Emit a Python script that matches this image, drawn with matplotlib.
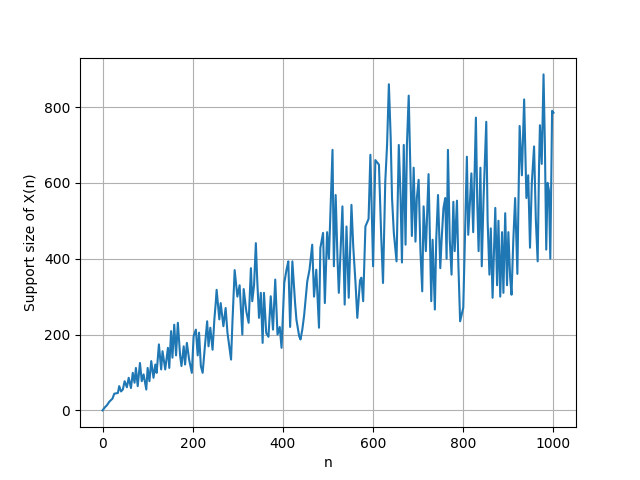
import matplotlib
matplotlib.use("Agg")
import matplotlib.pyplot as plt

n_vals = [0, 5, 10, 15, 22, 26, 34, 37, 41, 45, 49, 54, 58, 63, 67, 71, 74, 78, 83, 87,
          91, 97, 100, 104, 108, 113, 117, 120, 125, 130, 133, 139, 145, 148, 152, 155, 159, 163, 167, 172,
          175, 180, 183, 187, 192, 198, 202, 207, 211, 214, 218, 222, 227, 232, 235, 239, 244, 248, 251, 253,
          259, 262, 268, 273, 277, 281, 285, 288, 293, 299, 304, 310, 313, 319, 324, 329, 332, 336, 340, 343,
          347, 351, 355, 358, 363, 368, 373, 378, 383, 388, 393, 397, 403, 408, 412, 416, 421, 427, 430, 436,
          439, 443, 447, 454, 459, 465, 469, 474, 480, 483, 489, 493, 498, 502, 506, 510, 513, 517, 521, 524,
          532, 537, 541, 546, 552, 556, 561, 565, 571, 574, 578, 583, 590, 594, 600, 605, 613, 618, 622, 627,
          631, 635, 639, 642, 646, 652, 657, 661, 664, 668, 672, 675, 679, 683, 686, 690, 694, 697, 701, 705,
          709, 712, 717, 723, 729, 732, 737, 740, 744, 749, 752, 756, 760, 763, 766, 770, 774, 778, 781, 786,
          789, 793, 800, 805, 808, 811, 818, 822, 828, 831, 834, 838, 841, 845, 851, 854, 858, 861, 865, 871,
          875, 878, 882, 886, 889, 893, 897, 900, 904, 907, 911, 915, 920, 925, 930, 935, 940, 944, 948, 952,
          957, 961, 965, 968, 970, 974, 978, 981, 984, 987, 990, 993, 997, 1000]

support_vals = [0, 8, 14, 23, 31, 44, 46, 64, 50, 55, 77, 61, 86, 59, 99, 73, 112, 64, 125, 77,
                95, 55, 112, 77, 130, 86, 121, 99, 174, 108, 156, 108, 165, 112, 209, 139, 226, 145, 231, 145,
                117, 169, 121, 178, 134, 99, 196, 213, 145, 205, 117, 99, 169, 235, 169, 218, 160, 240, 283, 318,
                240, 283, 222, 270, 205, 169, 134, 231, 370, 300, 330, 200, 320, 260, 231, 375, 288, 330, 441, 345,
                244, 310, 178, 310, 204, 194, 301, 213, 345, 200, 220, 165, 336, 371, 393, 220, 393, 283, 239, 196,
                187, 213, 250, 340, 371, 437, 300, 371, 218, 428, 468, 283, 470, 400, 547, 687, 380, 568, 402, 310,
                538, 279, 485, 297, 542, 432, 336, 244, 343, 350, 288, 485, 505, 674, 380, 660, 648, 459, 336, 603,
                700, 860, 720, 560, 468, 393, 700, 560, 390, 700, 437, 700, 830, 620, 460, 640, 445, 560, 608, 420,
                314, 538, 420, 623, 288, 450, 266, 450, 568, 375, 450, 533, 560, 400, 687, 450, 358, 550, 420, 553,
                390, 235, 271, 520, 669, 463, 625, 470, 772, 550, 420, 640, 380, 560, 761, 500, 358, 480, 297, 534,
                330, 500, 300, 470, 310, 520, 330, 470, 350, 305, 450, 560, 360, 750, 620, 820, 560, 620, 429, 600,
                696, 500, 393, 640, 752, 650, 886, 700, 424, 600, 580, 400, 790, 785]

fig, ax = plt.subplots(figsize=(6.4, 4.8), dpi=100)
ax.plot(n_vals, support_vals, color="#1f77b4", linewidth=1.5)
ax.set_xlabel("n")
ax.set_ylabel("Support size of X(n)")
ax.grid(True)
fig.savefig("out.png", dpi=100)
